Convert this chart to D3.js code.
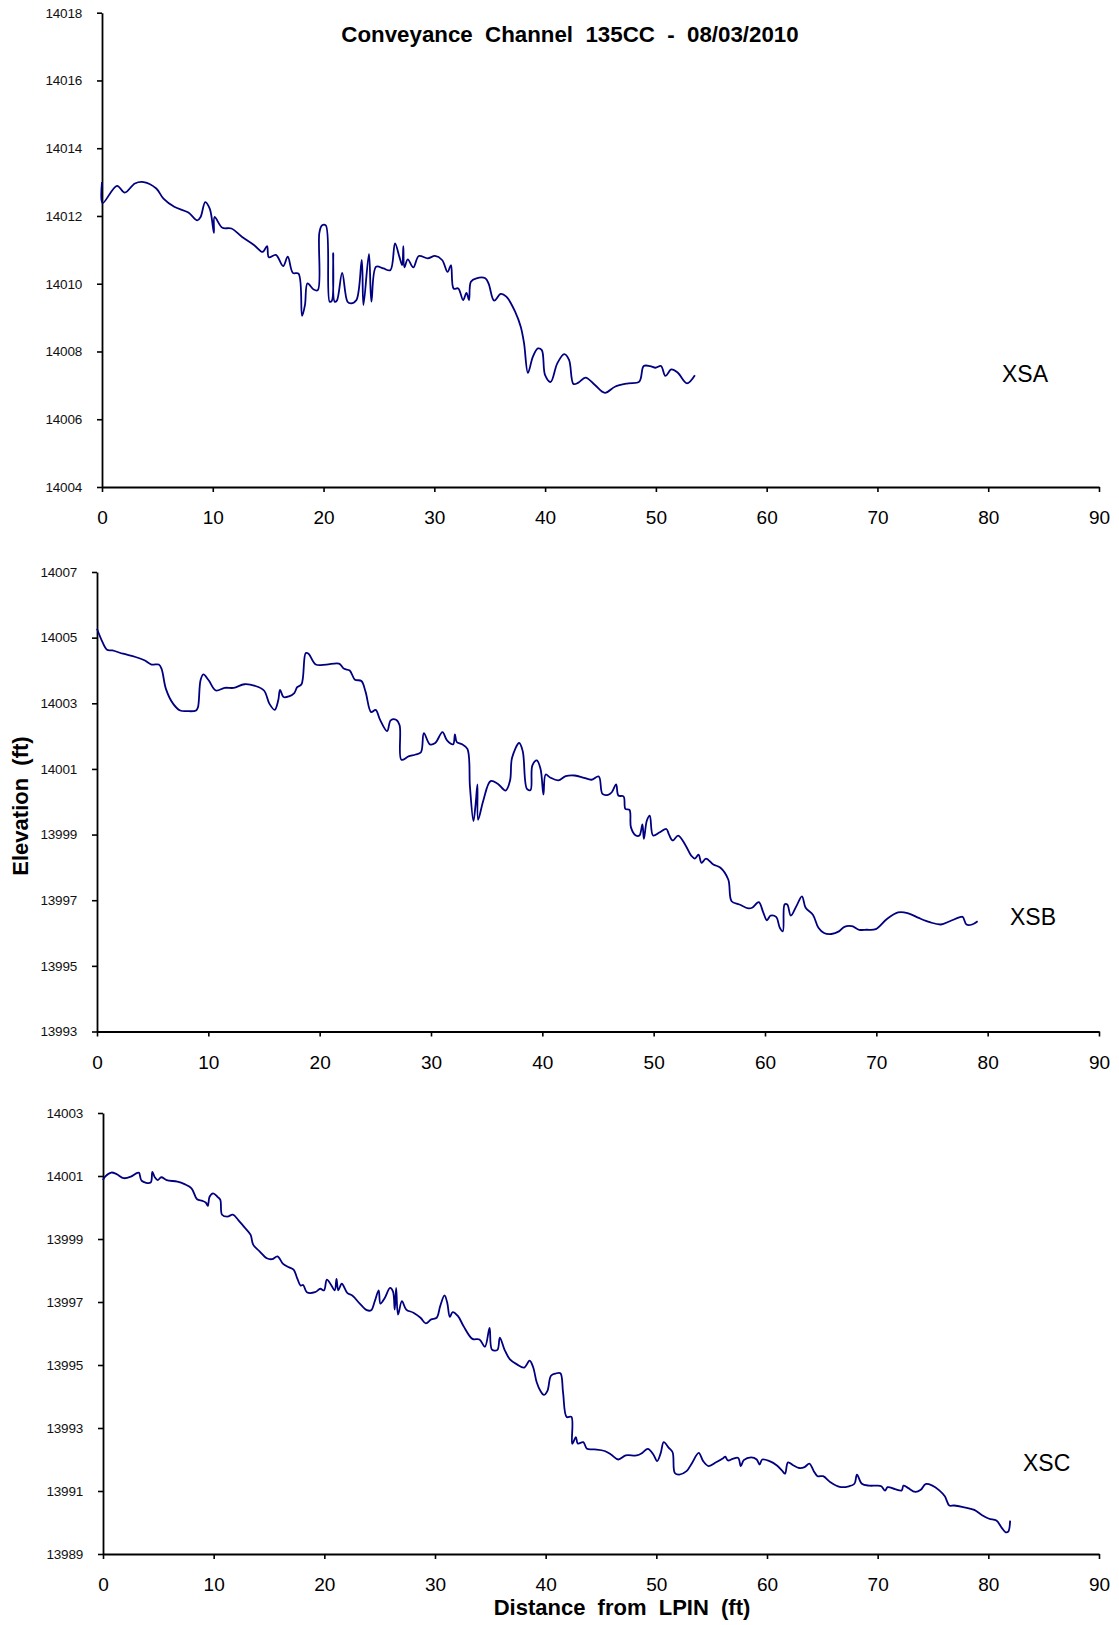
<!DOCTYPE html>
<html><head><meta charset="utf-8">
<script src="https://cdn.jsdelivr.net/npm/d3@7"></script>
<style>
body{margin:0;background:#fff}
svg{display:block;font-family:"Liberation Sans",Arial,sans-serif}
</style>
</head><body><svg id="c" width="1119" height="1625"></svg>
<script>
// ---- data ----
const xTicks = [0,10,20,30,40,50,60,70,80,90];
const xsaTicks = [14004,14006,14008,14010,14012,14014,14016,14018];
const xsbTicks = [13993,13995,13997,13999,14001,14003,14005,14007];
const xscTicks = [13989,13991,13993,13995,13997,13999,14001,14003];
const seriesNames = ["XSA","XSB","XSC"];

const xsa = [[0,14013.0],[0.05,14012.38],[1.35,14012.89],[2.06,14012.69],[2.97,14012.96],[3.77,14013.0],[4.9,14012.81],[5.55,14012.51],[6.52,14012.27],[7.8,14012.1],[8.6,14011.87],[8.9,14011.97],[9.32,14012.41],[9.74,14012.2],[10.1,14011.5],[10.16,14011.97],[10.87,14011.65],[11.68,14011.63],[12.65,14011.38],[13.77,14011.13],[14.5,14010.94],[14.9,14011.11],[15.06,14010.78],[15.7,14010.85],[16.35,14010.52],[16.77,14010.8],[17.23,14010.32],[17.74,14010.3],[18.06,14009.05],[18.32,14009.37],[18.55,14010.01],[19.1,14009.83],[19.48,14009.81],[19.62,14011.5],[19.85,14011.72],[20.2,14011.72],[20.55,14009.47],[20.75,14009.5],[20.87,14010.9],[21.0,14009.47],[21.2,14009.5],[21.68,14010.32],[22.16,14009.47],[22.48,14009.42],[22.97,14009.52],[23.45,14010.7],[23.6,14009.37],[24.1,14010.88],[24.32,14009.47],[24.74,14010.5],[25.4,14010.45],[26.03,14010.4],[26.45,14011.19],[26.84,14010.8],[27.1,14010.55],[27.2,14011.11],[27.3,14010.48],[27.6,14010.72],[28.1,14010.48],[28.6,14010.82],[29.4,14010.75],[30.06,14010.82],[30.7,14010.7],[31.2,14010.35],[31.5,14010.55],[31.74,14009.86],[32.16,14009.86],[32.6,14009.52],[32.9,14009.73],[33.13,14009.52],[33.3,14010.06],[33.8,14010.16],[34.6,14010.16],[34.9,14010.0],[35.4,14009.5],[36.0,14009.7],[36.5,14009.62],[37.3,14009.17],[37.8,14008.73],[38.1,14008.24],[38.45,14007.37],[38.9,14007.85],[39.35,14008.09],[39.7,14008.04],[40.0,14007.3],[40.5,14007.1],[41.1,14007.65],[41.73,14007.92],[42.16,14007.75],[42.56,14007.04],[43.0,14007.08],[43.65,14007.23],[44.5,14007.01],[45.4,14006.78],[46.3,14006.96],[47.5,14007.06],[48.5,14007.11],[48.9,14007.57],[49.47,14007.57],[49.97,14007.52],[50.46,14007.57],[50.86,14007.28],[51.4,14007.47],[51.96,14007.38],[52.8,14007.06],[53.52,14007.3]];

const xsb = [[0,14005.27],[0.42,14004.92],[0.9,14004.63],[1.38,14004.61],[2.34,14004.51],[3.46,14004.41],[4.26,14004.31],[4.9,14004.18],[5.55,14004.18],[5.8,14004.05],[6.19,14003.44],[6.83,14002.99],[7.47,14002.78],[8.1,14002.76],[8.9,14002.78],[9.07,14002.88],[9.3,14003.7],[9.55,14003.88],[10.03,14003.7],[10.67,14003.39],[11.47,14003.47],[12.28,14003.47],[13.24,14003.58],[14.2,14003.53],[15.0,14003.39],[15.48,14002.99],[15.96,14002.8],[16.28,14003.09],[16.44,14003.41],[16.76,14003.19],[17.24,14003.21],[17.72,14003.31],[17.98,14003.49],[18.37,14003.58],[18.75,14004.53],[19.0,14004.51],[19.65,14004.18],[20.6,14004.18],[21.73,14004.21],[22.2,14004.05],[22.7,14004.0],[23.17,14003.72],[23.75,14003.68],[24.13,14003.34],[24.62,14002.73],[25.03,14002.8],[25.42,14002.5],[26.06,14002.15],[26.38,14002.48],[26.86,14002.5],[27.18,14002.33],[27.34,14001.28],[27.98,14001.38],[28.62,14001.44],[29.1,14001.51],[29.36,14002.09],[29.9,14001.75],[30.38,14001.79],[31.03,14002.12],[31.44,14001.87],[31.99,14001.75],[32.15,14002.05],[32.31,14001.82],[32.79,14001.75],[33.27,14001.61],[33.5,14000.45],[33.81,13999.41],[34.0,13999.9],[34.17,14000.53],[34.23,13999.45],[34.7,14000.04],[35.35,14000.63],[35.99,14000.55],[36.7,14000.34],[37.1,14000.65],[37.28,14001.34],[37.92,14001.79],[38.24,14001.54],[38.62,14000.39],[38.94,14000.36],[39.1,14001.1],[39.5,14001.26],[39.84,14001.0],[40.1,14000.22],[40.3,14000.83],[40.7,14000.74],[41.43,14000.65],[42.1,14000.78],[42.9,14000.8],[43.75,14000.73],[44.4,14000.67],[45.07,14000.77],[45.4,14000.24],[45.9,14000.21],[46.24,14000.29],[46.63,14000.53],[46.83,14000.19],[47.3,14000.16],[47.46,13999.78],[47.83,13999.75],[47.96,13999.22],[48.4,13998.97],[48.72,13998.97],[48.99,13999.31],[49.12,13998.87],[49.39,13999.43],[49.65,13999.58],[49.95,13998.97],[50.55,13999.07],[51.14,13999.17],[51.38,13999.0],[51.71,13998.82],[52.2,13998.97],[52.87,13998.67],[53.37,13998.36],[53.7,13998.27],[54.03,13998.39],[54.3,13998.14],[54.7,13998.27],[55.36,13998.09],[56.0,13997.99],[56.7,13997.63],[57.0,13996.97],[57.7,13996.87],[58.5,13996.75],[58.84,13996.77],[59.44,13996.94],[59.84,13996.63],[60.17,13996.39],[60.5,13996.53],[61.0,13996.49],[61.33,13996.16],[61.6,13996.05],[61.76,13996.87],[62.0,13996.87],[62.32,13996.53],[62.82,13996.82],[63.32,13997.12],[63.65,13996.77],[64.3,13996.56],[64.8,13996.16],[65.3,13996.0],[65.97,13995.97],[66.64,13996.05],[67.13,13996.19],[67.8,13996.21],[68.46,13996.1],[69.12,13996.1],[69.95,13996.12],[70.95,13996.43],[71.95,13996.63],[72.8,13996.61],[73.8,13996.46],[74.8,13996.33],[75.8,13996.26],[76.6,13996.36],[77.6,13996.49],[77.77,13996.49],[78.1,13996.26],[78.6,13996.26],[79.1,13996.36]];

const xsc = [[0,14000.87],[0.19,14000.98],[0.74,14001.11],[1.23,14001.06],[1.87,14000.93],[2.52,14000.98],[3.1,14001.1],[3.26,14001.1],[3.49,14000.85],[4.3,14000.79],[4.46,14001.13],[4.68,14000.96],[4.94,14000.87],[5.27,14000.96],[5.75,14000.87],[6.72,14000.82],[7.37,14000.74],[8.0,14000.61],[8.5,14000.26],[8.98,14000.21],[9.3,14000.15],[9.47,14000.05],[9.63,14000.34],[9.95,14000.45],[10.34,14000.34],[10.6,14000.24],[10.76,13999.77],[11.24,13999.71],[11.73,13999.77],[12.21,13999.61],[12.86,13999.34],[13.34,13999.13],[13.57,13998.82],[14.15,13998.61],[14.8,13998.39],[15.28,13998.36],[15.77,13998.45],[16.25,13998.22],[16.74,13998.11],[17.22,13998.03],[17.54,13997.76],[17.87,13997.52],[18.09,13997.54],[18.42,13997.31],[19.16,13997.31],[19.64,13997.42],[19.97,13997.37],[20.23,13997.71],[20.6,13997.55],[20.94,13997.37],[21.1,13997.73],[21.26,13997.37],[21.58,13997.58],[22.07,13997.29],[22.55,13997.2],[23.2,13996.95],[23.84,13996.74],[24.23,13996.74],[24.56,13997.03],[24.91,13997.37],[25.07,13996.95],[25.46,13997.13],[25.94,13997.45],[26.2,13997.34],[26.36,13996.76],[26.49,13997.45],[26.66,13996.6],[27.01,13997.03],[27.4,13996.76],[28.05,13996.66],[28.69,13996.5],[29.18,13996.32],[29.66,13996.45],[30.15,13996.5],[30.47,13996.87],[30.86,13997.21],[31.11,13996.97],[31.34,13996.53],[31.6,13996.68],[32.08,13996.55],[32.57,13996.24],[33.38,13995.83],[34.02,13995.81],[34.51,13995.58],[34.93,13996.18],[35.15,13995.49],[35.64,13995.48],[35.86,13995.87],[36.28,13995.49],[36.77,13995.18],[37.41,13995.02],[38.06,13994.92],[38.55,13995.14],[38.87,13994.93],[39.19,13994.45],[39.52,13994.18],[39.84,13994.05],[40.16,13994.18],[40.48,13994.66],[40.9,13994.73],[41.33,13994.74],[41.57,13994.13],[41.9,13993.35],[42.33,13993.35],[42.4,13992.5],[42.73,13992.71],[42.9,13992.51],[43.4,13992.55],[43.73,13992.34],[44.4,13992.32],[45.33,13992.27],[45.9,13992.16],[46.57,13992.0],[47.23,13992.13],[48.23,13992.13],[48.73,13992.21],[49.23,13992.34],[49.73,13992.16],[50.07,13991.95],[50.4,13992.21],[50.67,13992.55],[51.13,13992.37],[51.47,13992.23],[51.67,13991.57],[52.07,13991.52],[52.73,13991.63],[53.23,13991.89],[53.83,13992.21],[54.23,13991.95],[54.73,13991.79],[55.4,13991.91],[56.07,13992.05],[56.23,13992.09],[56.47,13991.97],[56.9,13992.02],[57.4,13992.05],[57.63,13991.79],[57.9,13991.98],[58.57,13992.07],[59.07,13992.0],[59.33,13991.84],[59.57,13992.0],[60.23,13991.95],[60.9,13991.81],[61.4,13991.63],[61.63,13991.55],[61.9,13991.91],[62.4,13991.81],[62.9,13991.73],[63.4,13991.76],[63.83,13991.87],[64.23,13991.63],[64.57,13991.47],[65.07,13991.47],[65.73,13991.28],[66.57,13991.13],[67.4,13991.15],[67.9,13991.23],[68.13,13991.52],[68.57,13991.23],[69.23,13991.17],[69.9,13991.17],[70.33,13991.15],[70.67,13991.01],[70.9,13991.12],[71.57,13991.06],[72.17,13991.02],[72.33,13991.17],[72.73,13991.1],[73.4,13990.97],[73.9,13991.04],[74.33,13991.22],[74.9,13991.18],[75.57,13991.02],[76.07,13990.83],[76.47,13990.54],[76.9,13990.54],[77.73,13990.49],[78.73,13990.4],[79.4,13990.24],[80.07,13990.12],[80.73,13990.06],[81.23,13989.82],[81.57,13989.69],[81.8,13989.71],[81.97,13990.06]];

// ---- layout ----
const right = 1099;
const panels = [
  {data: xsa, ticks: xsaTicks, name: seriesNames[0], left: 102, top: 12.7, bottom: 487, lx: 1002, ly: 382},
  {data: xsb, ticks: xsbTicks, name: seriesNames[1], left: 97,  top: 572,  bottom: 1031.5, lx: 1010, ly: 925},
  {data: xsc, ticks: xscTicks, name: seriesNames[2], left: 103, top: 1113, bottom: 1554, lx: 1023, ly: 1471}
];
const lineColor = "#000080";

const svg = d3.select("#c");

panels.forEach(p => {
  const x = d3.scaleLinear().domain([0, 90]).range([p.left, right]);
  const y = d3.scaleLinear().domain([p.ticks[0], p.ticks[p.ticks.length-1]]).range([p.bottom, p.top]);

  const gy = svg.append("g").attr("transform", `translate(${p.left},0)`)
    .call(d3.axisLeft(y).tickValues(p.ticks).tickSize(5).tickSizeOuter(0).tickPadding(15).tickFormat(d3.format("d")));
  gy.selectAll("text").attr("font-size", 13.5).attr("font-family", '"Liberation Sans",Arial,sans-serif')
    .attr("fill", "#111").attr("letter-spacing", "-0.2");

  const gx = svg.append("g").attr("transform", `translate(0,${p.bottom})`)
    .call(d3.axisBottom(x).tickValues(xTicks).tickSize(5).tickSizeOuter(0).tickPadding(19));
  gx.selectAll("text").attr("font-size", 19).attr("font-family", '"Liberation Sans",Arial,sans-serif').attr("fill", "#000");

  [gx, gy].forEach(g => {
    g.select(".domain").attr("stroke", "#000").attr("stroke-width", 1.8);
    g.selectAll(".tick line").attr("stroke", "#000").attr("stroke-width", 1.6);
  });

  const line = d3.line().x(d => x(d[0])).y(d => y(d[1])).curve(d3.curveCatmullRom.alpha(0.5));
  svg.append("path").datum(p.data).attr("d", line)
    .attr("fill", "none").attr("stroke", lineColor).attr("stroke-width", 1.8)
    .attr("stroke-linejoin", "round");

  svg.append("text").attr("x", p.lx).attr("y", p.ly).attr("font-size", 23).attr("fill", "#000").text(p.name);
});

svg.append("text").attr("x", 570).attr("y", 41.5).attr("text-anchor", "middle")
  .attr("font-size", 22.3).attr("font-weight", "bold").style("white-space", "pre")
  .text("Conveyance  Channel  135CC  -  08/03/2010");

svg.append("text").attr("x", 622).attr("y", 1615).attr("text-anchor", "middle")
  .attr("font-size", 22).attr("font-weight", "bold").style("white-space", "pre")
  .text("Distance  from  LPIN  (ft)");

svg.append("text").attr("transform", "translate(28,806) rotate(-90)").attr("text-anchor", "middle")
  .attr("font-size", 22).attr("font-weight", "bold").style("white-space", "pre")
  .text("Elevation  (ft)");
</script>
</body></html>
